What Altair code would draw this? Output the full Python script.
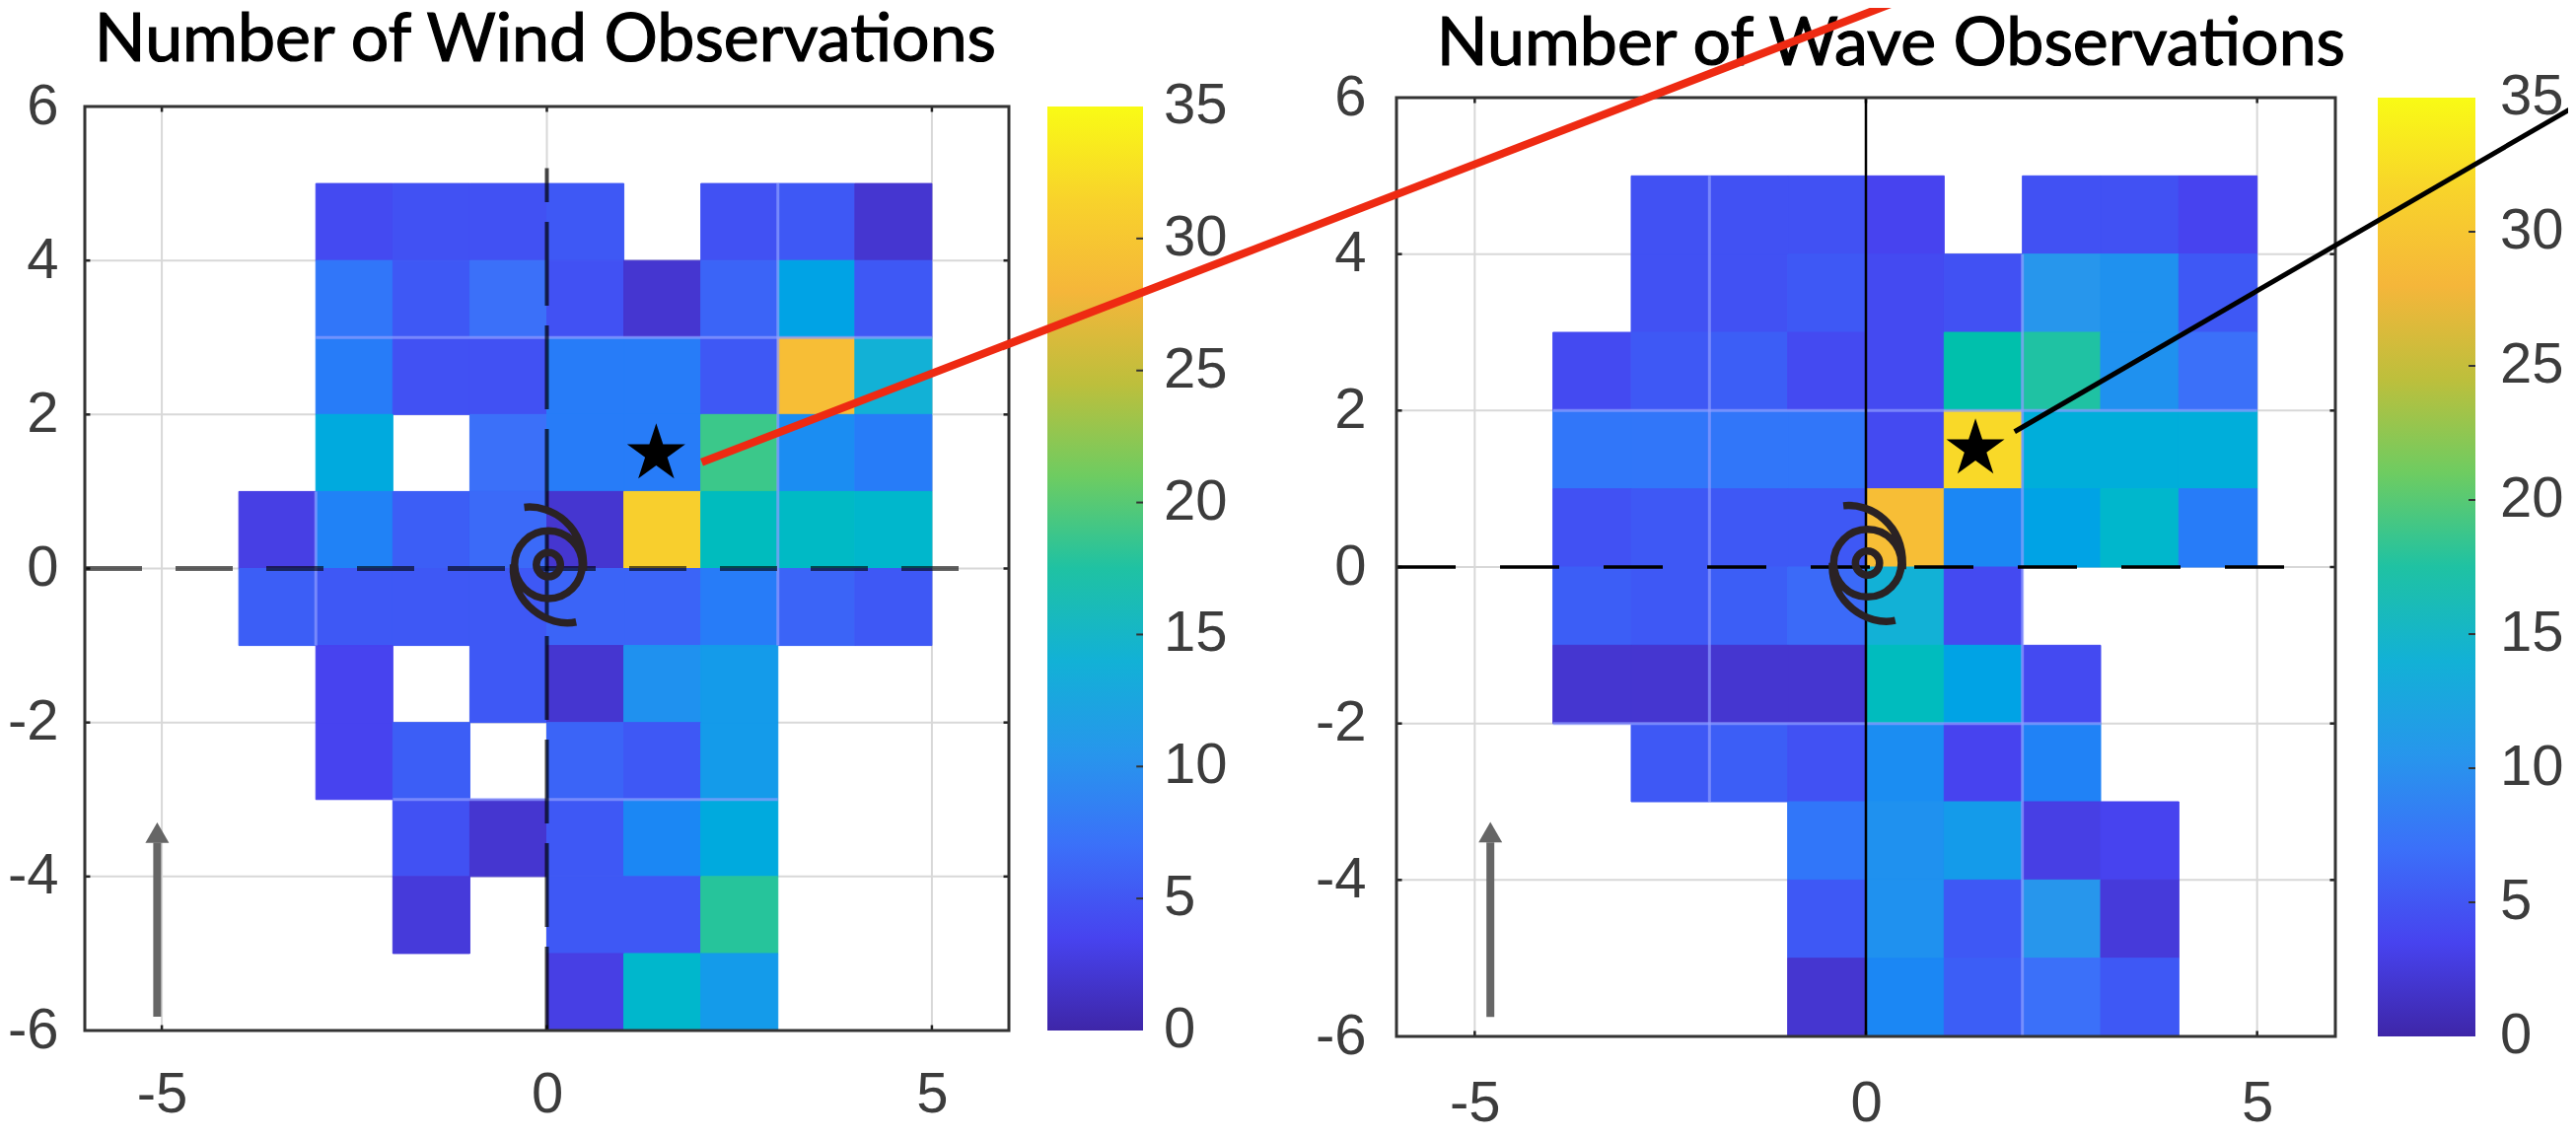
import altair as alt
import pandas as pd

PARULA = ["#3e26a8", "#4743ef", "#3b70f9", "#2796ec", "#12b1d6", "#1fc2a3",
          "#6ecc61", "#bdbf3c", "#f5b63a", "#f8d32b", "#f9fb15"]
STOPS = [i * 3.5 for i in range(11)]
COLS = [-4, -3, -2, -1, 0, 1, 2, 3, 4]
N = None

# rows keyed by lower y edge, columns keyed by left x edge (COLS)
WIND = {
    4:  [N, 4, 4.5, 4.5, 5, N, 4.5, 5, 2],
    3:  [N, 7.5, 5, 7, 4.5, 2, 6, 12, 5],
    2:  [N, 8, 4.5, 4.5, 8, 8, 5, 29, 14],
    1:  [N, 13, N, 7, 8, 8, 19, 9.5, 8],
    0:  [3, 8.5, 5.5, 6.5, 2, 31, 16, 15.5, 15],
    -1: [5.5, 5, 5, 5, 6, 6, 8, 6, 5],
    -2: [N, 3.5, N, 5, 2, 10, 11, N, N],
    -3: [N, 3.5, 5.5, N, 6, 5, 11, N, N],
    -4: [N, N, 4.5, 2, 5, 9, 13, N, N],
    -5: [N, N, 2.5, N, 5, 5, 18, N, N],
    -6: [N, N, N, N, 3, 15, 11, N, N],
}
WAVE = {
    4:  [N, 4.5, 4.5, 4.5, 3.5, N, 4.5, 4.5, 3.5],
    3:  [N, 4.5, 4.5, 5, 4, 4.5, 10.5, 10, 5],
    2:  [4, 5, 5.5, 4, 4, 17, 17.5, 10, 7],
    1:  [7.5, 7.5, 7.5, 7.5, 4, 32, 13.5, 13.5, 13.5],
    0:  [4.5, 5, 5, 5, 29, 9, 12, 15, 8],
    -1: [5.5, 5, 5.5, 6.5, 14, 4, N, N, N],
    -2: [2, 2, 2, 2, 16, 12, 4, N, N],
    -3: [N, 5, 5.5, 4.5, 9.5, 3.5, 8.5, N, N],
    -4: [N, N, N, 7.5, 10, 11, 3, 3.5, N],
    -5: [N, N, N, 5, 10, 5, 10.5, 2.5, N],
    -6: [N, N, N, 2, 9, 5.5, 7, 5, N],
}
X_TICKS = [-5, 0, 5]
Y_TICKS = [-6, -4, -2, 0, 2, 4, 6]
CB_TICKS = [0, 5, 10, 15, 20, 25, 30, 35]

WIND_SEAMS = [(-3, 5, 3, 3), (-2, 3, -3, -3), (3, 3, -1, 5), (-3, -3, -1, 1)]
WAVE_SEAMS = [(-4, 5, 2, 2), (-4, 3, -2, -2), (-2, -2, -3, 5), (2, 2, -6, 4)]

STAR = ("M0,-1L0.2245,-0.309L0.951,-0.309L0.363,0.118L0.588,0.809L0,0.382"
        "L-0.588,0.809L-0.363,0.118L-0.951,-0.309L-0.2245,-0.309Z")
CYCLONE = ("M.2,0A.2,.2 0 1 1 -.2,0A.2,.2 0 1 1 .2,0Z"
           "M.56,0A.56,.56 0 1 1 -.56,0A.56,.56 0 1 1 .56,0Z"
           "M-.4,-.95C.05,-1.0 .62,-.65 .58,.1"
           "M.46,.95C0,1.05 -.62,.65 -.58,0")
H = 1146
LABEL = dict(font="Liberation Sans", fontSize=58, color="#3c3c3c")


def cells(table):
    rows = []
    for y, vals in table.items():
        for x, v in zip(COLS, vals):
            if v is not None:
                rows.append({"x": x, "x2": x + 1, "y": y, "y2": y + 1, "v": v})
    return pd.DataFrame(rows)


def segs(items):
    return pd.DataFrame([{"x": a, "x2": b, "y": c, "y2": d} for a, b, c, d in items])


def scales(xr, yr):
    return (alt.Scale(domain=[-6, 6], range=xr, nice=False, zero=False),
            alt.Scale(domain=[-6, 6], range=yr, nice=False, zero=False))


def rule(df, xs, ys, **kw):
    return alt.Chart(df).mark_rule(**kw).encode(
        x=alt.X("x:Q", scale=xs, axis=None), x2="x2:Q",
        y=alt.Y("y:Q", scale=ys, axis=None), y2="y2:Q")


def axes_layer(xr, yr, xpad, ypad):
    xs, ys = scales(xr, yr)
    return alt.Chart(pd.DataFrame({"x": [0], "y": [0]})).mark_point(opacity=0).encode(
        x=alt.X("x:Q", scale=xs, title=None, axis=alt.Axis(
            values=X_TICKS, domain=False, ticks=False, grid=False, orient="bottom",
            offset=yr[0] - H, labelPadding=xpad, labelFont="Liberation Sans", labelFontSize=58,
            labelColor="#3c3c3c", labelFlush=False, labelOverlap=False,
            labelExpr="toString(datum.value)")),
        y=alt.Y("y:Q", scale=ys, title=None, axis=alt.Axis(
            values=Y_TICKS, domain=False, ticks=False, grid=False, orient="left",
            offset=-xr[0], labelPadding=ypad, labelFont="Liberation Sans", labelFontSize=58,
            labelColor="#3c3c3c", labelFlush=False, labelOverlap=False,
            labelExpr="toString(datum.value)")),
    )


def colorbar(cb_x, cb_w, cb_off, yr):
    xs = alt.Scale(domain=[0, 1], range=[cb_x, cb_x + cb_w], nice=False, zero=False)
    ys = alt.Scale(domain=[0, 35], range=yr, nice=False, zero=False)
    grad = {"gradient": "linear", "x1": 0, "x2": 0, "y1": 1, "y2": 0,
            "stops": [{"offset": s / 35, "color": c} for s, c in zip(STOPS, PARULA)]}
    bar = alt.Chart(pd.DataFrame({"x": [0], "x2": [1], "y": [0], "y2": [35]})).mark_rect(fill=grad).encode(
        x=alt.X("x:Q", scale=xs, axis=None), x2="x2:Q",
        y=alt.Y("y:Q", scale=ys, axis=None), y2="y2:Q")
    ticks = alt.Chart(pd.DataFrame({"v": CB_TICKS[1:-1], "x": 0.93, "x2": 1.0})).mark_rule(
        color="#333333", strokeWidth=2).encode(
        x=alt.X("x:Q", scale=xs, axis=None), x2="x2:Q", y=alt.Y("v:Q", scale=ys, axis=None))
    labels = alt.Chart(pd.DataFrame({"v": CB_TICKS, "x": 1.0})).mark_text(
        align="left", baseline="middle", dx=cb_off, **LABEL).encode(
        x=alt.X("x:Q", scale=xs, axis=None), y=alt.Y("v:Q", scale=ys, axis=None), text="v:Q")
    return alt.layer(bar, ticks, labels)


def title_layer(title, txy, xs, ys):
    return alt.Chart(pd.DataFrame({"x": [txy[0]], "y": [txy[1]], "t": [title]})).mark_text(
        font="Lato", fontSize=68, color="#000000", stroke="#000000", strokeWidth=1.2,
        align="center", baseline="alphabetic"
    ).encode(x=alt.X("x:Q", scale=xs, axis=None), y=alt.Y("y:Q", scale=ys, axis=None), text="t:N")


def panel(table, seams, xr, yr, star, arrow, dash):
    xs, ys = scales(xr, yr)

    def point(xv, yv, **kw):
        return alt.Chart(pd.DataFrame({"x": [xv], "y": [yv]})).mark_point(**kw).encode(
            x=alt.X("x:Q", scale=xs, axis=None),
            y=alt.Y("y:Q", scale=ys, axis=None))

    grid = [(v, v, -6, 6) for v in X_TICKS] + [(-6, 6, v, v) for v in Y_TICKS[1:-1]]
    inner = [(-6, -5.93, v, v) for v in Y_TICKS[1:-1]] + [(5.93, 6, v, v) for v in Y_TICKS[1:-1]] + \
            [(v, v, -6, -5.93) for v in X_TICKS] + [(v, v, 5.93, 6) for v in X_TICKS]
    cscale = alt.Scale(domain=STOPS, range=PARULA)

    heat = alt.Chart(cells(table)).mark_rect(strokeWidth=1).encode(
        x=alt.X("x:Q", scale=xs, axis=None), x2="x2:Q",
        y=alt.Y("y:Q", scale=ys, axis=None), y2="y2:Q",
        color=alt.Color("v:Q", scale=cscale, legend=None),
        stroke=alt.Stroke("v:Q", scale=cscale, legend=None),
    )
    return alt.layer(
        rule(segs(grid), xs, ys, color="#d8d8d8", strokeWidth=2),
        heat,
        rule(segs(seams), xs, ys, color="#8f9cff", strokeWidth=3, opacity=0.7),
        rule(segs(inner), xs, ys, color="#222222", strokeWidth=2.5),
        *[rule(segs(seg), xs, ys, **kw) for seg, kw in dash],
        alt.Chart(pd.DataFrame({"x": [-6], "x2": [6], "y": [-6], "y2": [6]})).mark_rect(
            fillOpacity=0, stroke="#333333", strokeWidth=3).encode(
            x=alt.X("x:Q", scale=xs, axis=None), x2="x2:Q",
            y=alt.Y("y:Q", scale=ys, axis=None), y2="y2:Q"),
        rule(segs([(arrow[0], arrow[0], arrow[1], arrow[2])]), xs, ys, color="#666666", strokeWidth=8),
        point(arrow[0], arrow[2] + 0.13, shape="triangle-up", size=576, filled=True, color="#666666", opacity=1),
        point(0.02, 0.05, shape=CYCLONE, size=15000, filled=False, stroke="#2a2224", strokeWidth=7.5, opacity=1),
        point(star[0], star[1], shape=STAR, size=3850, filled=True, color="#000000", opacity=1),
    )


W_XR, W_YR = [78, 1015], [1037, 100]
V_XR, V_YR = [1408, 2360], [1043, 91]
wxs, wys = scales(W_XR, W_YR)
vxs, vys = scales(V_XR, V_YR)

wind = panel(
    WIND, WIND_SEAMS, W_XR, W_YR, (1.42, 1.49), (-5.06, -5.82, -3.56),
    [([(-6, 5.6, 0, 0)], dict(color="#000000", opacity=0.6, strokeWidth=5, strokeDash=[58, 34])),
     ([(0, 0, -6, 5.2)], dict(color="#000000", opacity=0.7, strokeWidth=4, strokeDash=[85, 20]))],
)
wave = panel(
    WAVE, WAVE_SEAMS, V_XR, V_YR, (1.4, 1.51), (-4.8, -5.75, -3.52),
    [([(-6, 5.6, 0, 0)], dict(color="#000000", strokeWidth=3.5, strokeDash=[60, 45])),
     ([(0, 0, -6, 6)], dict(color="#000000", strokeWidth=2.5))],
)

chart = alt.layer(
    axes_layer(W_XR, W_YR, 36, 27),
    wind,
    colorbar(1054, 97, 21, W_YR),
    title_layer("Number of Wind Observations", (-0.02, 6.59), wxs, wys),
    axes_layer(V_XR, V_YR, 39, 31),
    wave,
    colorbar(2403, 99, 25, V_YR),
    title_layer("Number of Wave Observations", (0.32, 6.41), vxs, vys),
    rule(segs([(-14.88, 0.454, 1.34, 7.25)]), vxs, vys, color="#ee2a12", strokeWidth=8),
    rule(segs([(1.90, 9.08, 1.73, 5.90)]), vxs, vys, color="#000000", strokeWidth=5),
).resolve_scale(x="independent", y="independent").properties(
    width=2596, height=H, padding=0, background="white", autosize=alt.AutoSizeParams(type="none"),
).configure_view(stroke=None)

chart.save("out.html", embed_options={"renderer": "svg", "actions": False})
